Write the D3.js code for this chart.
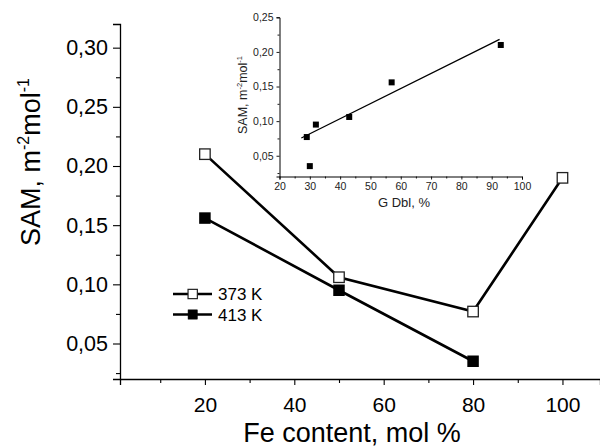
<!DOCTYPE html>
<html>
<head>
<meta charset="utf-8">
<script src="https://cdn.jsdelivr.net/npm/d3@7/dist/d3.min.js"></script>
<style>
html,body{margin:0;padding:0;background:#fff;}
svg{display:block;font-family:Arial,"Liberation Sans",sans-serif;}
</style>
</head>
<body>
<svg id="chart" width="600" height="447"></svg>
<script>
// ---- main chart data ----
const fe373 = [20, 50, 80, 100];
const sam373 = [0.21, 0.106, 0.077, 0.19];
const fe413 = [20, 50, 80];
const sam413 = [0.156, 0.095, 0.035];
const seriesNames = ["373 K", "413 K"];
const xMajorTicks = [20, 40, 60, 80, 100];
const xMinorTicks = [10, 30, 50, 70, 90];
const yMajorTicks = [0.05, 0.10, 0.15, 0.20, 0.25, 0.30];
const yMinorTicks = [0.025, 0.075, 0.125, 0.175, 0.225, 0.275];

// ---- inset data ----
const gdbl = [29, 30, 32, 43, 57, 93];
const samInset = [0.077, 0.035, 0.095, 0.106, 0.156, 0.210];
const fitX = [27.2, 92.6];
const fitY = [0.0756, 0.218];
const insetXTicks = [20, 30, 40, 50, 60, 70, 80, 90, 100];
const insetXMinor = [25, 35, 45, 55, 65, 75, 85, 95];
const insetYTicks = [0.05, 0.10, 0.15, 0.20, 0.25];
const insetYMinor = [0.025, 0.075, 0.125, 0.175, 0.225];

const svg = d3.select("#chart");
svg.append("rect").attr("width",600).attr("height",447).attr("fill","#fff");

const fmt = d => d3.format(".2f")(d).replace(".", ",");

// ---- main scales ----
const x = d3.scaleLinear().domain([1, 108.4]).range([120, 600]);
const y = d3.scaleLinear().domain([0.02, 0.32]).range([379, 24]);

function styleAxis(g, fs, color){
  g.select(".domain").attr("stroke","#000").attr("stroke-width",1.3);
  g.selectAll(".tick line").attr("stroke","#000").attr("stroke-width",1.1);
  g.selectAll(".tick text").attr("font-family","Arial, 'Liberation Sans', sans-serif")
    .attr("font-size",fs).attr("fill",color||"#000");
}

// x axis
const gx = svg.append("g").attr("transform","translate(0,379)")
  .call(d3.axisBottom(x).tickValues(xMajorTicks).tickSize(6).tickPadding(8).tickFormat(d3.format("d")));
styleAxis(gx, 21);
gx.selectAll(".tick text").attr("dy","0.9em");
svg.append("g").attr("transform","translate(0,379)")
  .call(d3.axisBottom(x).tickValues(xMinorTicks).tickSize(4).tickFormat(""))
  .call(g=>{g.select(".domain").remove(); g.selectAll(".tick line").attr("stroke","#000").attr("stroke-width",1.1);});

// y axis
const gy = svg.append("g").attr("transform","translate(120,0)")
  .call(d3.axisLeft(y).tickValues(yMajorTicks).tickSize(7).tickPadding(5).tickFormat(fmt));
styleAxis(gy, 21.5);
svg.append("g").attr("transform","translate(120,0)")
  .call(d3.axisLeft(y).tickValues(yMinorTicks).tickSize(4).tickFormat(""))
  .call(g=>{g.select(".domain").remove(); g.selectAll(".tick line").attr("stroke","#000").attr("stroke-width",1.1);});

// axis titles
svg.append("text").attr("x",352).attr("y",442).attr("text-anchor","middle")
  .attr("font-size",27).attr("fill","#000").text("Fe content, mol %");

const yt = svg.append("text").attr("transform","translate(40,162) rotate(-90)")
  .attr("text-anchor","middle").attr("font-size",27).attr("fill","#000");
yt.append("tspan").text("SAM, m");
yt.append("tspan").attr("font-size",16).attr("dy",-11).text("-2");
yt.append("tspan").attr("dy",11).text("mol");
yt.append("tspan").attr("font-size",16).attr("dy",-11).text("-1");

// main lines
const line = d3.line().x(d=>x(d[0])).y(d=>y(d[1]));
const d373 = fe373.map((v,i)=>[v, sam373[i]]);
const d413 = fe413.map((v,i)=>[v, sam413[i]]);
svg.append("path").datum(d373).attr("d",line).attr("fill","none").attr("stroke","#000").attr("stroke-width",2.6);
svg.append("path").datum(d413).attr("d",line).attr("fill","none").attr("stroke","#000").attr("stroke-width",2.6);
const ms = 10.5;
svg.selectAll(".m373").data(d373).enter().append("rect")
  .attr("x",d=>x(d[0])-ms/2).attr("y",d=>y(d[1])-ms/2).attr("width",ms).attr("height",ms)
  .attr("fill","#fff").attr("stroke","#222").attr("stroke-width",1.3);
svg.selectAll(".m413").data(d413).enter().append("rect")
  .attr("x",d=>x(d[0])-ms/2-0.5).attr("y",d=>y(d[1])-ms/2-0.5).attr("width",ms+1).attr("height",ms+1)
  .attr("fill","#000");

// legend
const leg = svg.append("g");
[0,1].forEach(i=>{
  const ly = 294 + i*20.5;
  leg.append("line").attr("x1",173).attr("x2",212).attr("y1",ly).attr("y2",ly)
    .attr("stroke","#000").attr("stroke-width",2.6);
  const s = 9.3;
  leg.append("rect").attr("x",192.7-s/2).attr("y",ly-s/2).attr("width",s).attr("height",s)
    .attr("fill", i===0 ? "#fff" : "#000").attr("stroke", i===0 ? "#222" : "#000").attr("stroke-width", i===0?1.2:0.5);
  leg.append("text").attr("x",218).attr("y",ly).attr("dy","0.36em").attr("font-size",17)
    .attr("fill","#000").text(seriesNames[i]);
});

// ---- inset ----
const ix = d3.scaleLinear().domain([20, 100]).range([279.5, 522]);
const iy = d3.scaleLinear().domain([0.02, 0.25]).range([176.5, 17.3]);

const igx = svg.append("g").attr("transform","translate(0,176.5)")
  .call(d3.axisBottom(ix).tickValues(insetXTicks).tickSize(3).tickPadding(3).tickFormat(d3.format("d")));
styleAxis(igx, 10.5, "#222");
igx.select(".domain").attr("stroke-width",1);
igx.selectAll(".tick line").attr("stroke-width",0.9);
svg.append("g").attr("transform","translate(0,176.5)")
  .call(d3.axisBottom(ix).tickValues(insetXMinor).tickSize(2).tickFormat(""))
  .call(g=>{g.select(".domain").remove(); g.selectAll(".tick line").attr("stroke","#000").attr("stroke-width",0.9);});

const igy = svg.append("g").attr("transform","translate(279.5,0)")
  .call(d3.axisLeft(iy).tickValues(insetYTicks).tickSize(3).tickPadding(3).tickFormat(fmt));
styleAxis(igy, 10.5, "#222");
igy.select(".domain").attr("stroke-width",1);
igy.selectAll(".tick line").attr("stroke-width",0.9);
svg.append("g").attr("transform","translate(279.5,0)")
  .call(d3.axisLeft(iy).tickValues(insetYMinor).tickSize(2).tickFormat(""))
  .call(g=>{g.select(".domain").remove(); g.selectAll(".tick line").attr("stroke","#000").attr("stroke-width",0.9);});

svg.append("text").attr("x",404).attr("y",207).attr("text-anchor","middle")
  .attr("font-size",13).attr("fill","#222").text("G Dbl, %");

const iyt = svg.append("text").attr("transform","translate(246.5,95) rotate(-90)")
  .attr("text-anchor","middle").attr("font-size",12.5).attr("fill","#222");
iyt.append("tspan").text("SAM, m");
iyt.append("tspan").attr("font-size",7.5).attr("dy",-5).text("-2");
iyt.append("tspan").attr("dy",5).text("mol");
iyt.append("tspan").attr("font-size",7.5).attr("dy",-5).text("-1");

// fit line
svg.append("line").attr("x1",ix(fitX[0])).attr("y1",iy(fitY[0])).attr("x2",ix(fitX[1])).attr("y2",iy(fitY[1]))
  .attr("stroke","#000").attr("stroke-width",1.3);
const is = 6;
svg.selectAll(".ipt").data(gdbl.map((v,i)=>[v, samInset[i]])).enter().append("rect")
  .attr("x",d=>ix(d[0])-is/2).attr("y",d=>iy(d[1])-is/2).attr("width",is).attr("height",is).attr("fill","#000");
</script>
</body>
</html>
